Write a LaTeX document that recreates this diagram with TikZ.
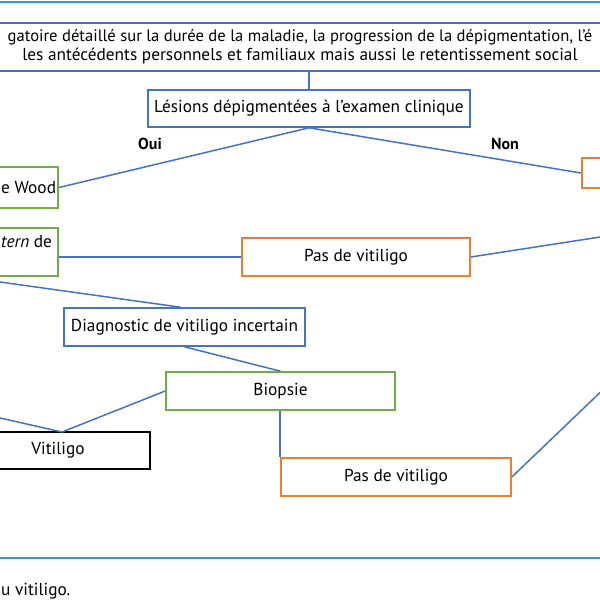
\documentclass[tikz,border=0pt]{standalone}
\usepackage{fontspec}
\setmainfont{PT Sans}
\definecolor{lblue}{HTML}{4472C4}
\definecolor{lgreen}{HTML}{70AD47}
\definecolor{lorange}{HTML}{ED7D31}
\definecolor{rule}{HTML}{1EA0DD}
\tikzset{
  bbox/.style={draw=lblue, line width=1.6pt, inner sep=0pt, font=\fontsize{17.3}{19.5}\selectfont},
  gbox/.style={bbox, draw=lgreen},
  obox/.style={bbox, draw=lorange},
  kbox/.style={bbox, draw=black},
  conn/.style={draw=lblue, line width=1.5pt},
  lbl/.style={font=\fontsize{16}{18}\selectfont\bfseries, inner sep=0pt},
  txt/.style={font=\fontsize{17.3}{19.5}\selectfont, inner sep=0pt},
}
\begin{document}
\begin{tikzpicture}[x=1pt,y=-1pt]
\useasboundingbox (0,0) rectangle (600,600);
\clip (0,0) rectangle (600,600);
\fill[white] (0,0) rectangle (600,600);
% rules
\coordinate (r1a) at (-5,1.5); \coordinate (r1b) at (605,1.5);
\coordinate (r2a) at (-5,558); \coordinate (r2b) at (605,558);
\draw[rule, line width=2pt] (r1a) -- (r1b);
\draw[rule, line width=2pt] (r2a) -- (r2b);
% boxes
\node[bbox, minimum width=620, minimum height=48, align=center] (top) at (300,47)
  {{\fontsize{16.6}{19.5}\selectfont gatoire détaillé sur la durée de la maladie, la progression de la dépigmentation, l'é}\\
   les antécédents personnels et familiaux mais aussi le retentissement social};
\node[bbox, minimum width=322, minimum height=37] (les) at (309,108.5) {Lésions dépigmentées à l'examen clinique};
\node[gbox, minimum width=120, minimum height=41, anchor=east] (wood) at (59,187.5) {};
\node[txt, anchor=west] (woodt) at (1,188) {e Wood};
\node[obox, minimum width=40, minimum height=30, anchor=west] (rbox) at (581,173) {};
\node[gbox, minimum width=120, minimum height=48, anchor=east] (pat) at (59,252) {};
\node[txt, anchor=west] (patt) at (1,242) {\textit{tern} de};
\node[obox, minimum width=228, minimum height=38] (pv1) at (356,257) {Pas de vitiligo};
\node[bbox, minimum width=241, minimum height=38] (diag) at (184.5,327) {Diagnostic de vitiligo incertain};
\node[gbox, minimum width=229, minimum height=38] (biop) at (280.5,391) {\raisebox{3pt}{Biopsie}};
\node[kbox, minimum width=184, minimum height=37] (vit) at (58,450.5) {Vitiligo};
\node[obox, minimum width=230, minimum height=38] (pv2) at (396,477) {Pas de vitiligo};
% labels
\node[lbl] (oui) at (150,144) {Oui};
\node[lbl] (non) at (505,144) {Non};
\node[txt, anchor=west] (cap) at (1,591) {u vitiligo.};
% connectors
\coordinate (vtop) at (62,432);
\coordinate (offL1) at (-10,280.6);
\coordinate (offL2) at (-10,415.7);
\coordinate (offR1) at (610,235.5);
\coordinate (offR2) at (610,383);
\draw[conn] (top.south -| les.north) -- (les.north);
\draw[conn] (les.south) -- (wood.east);
\draw[conn] (les.south) -- (rbox.west);
\draw[conn] (pv1.west -| pat.east) -- (pv1.west);
\draw[conn] (pv1.east) -- (offR1);
\draw[conn] (offL1) -- ([xshift=-4pt]diag.north);
\draw[conn] (diag.south) -- (biop.north);
\draw[conn] (biop.west) -- (vtop);
\draw[conn] (offL2) -- (vtop);
\draw[conn] (biop.south -| pv2.west) -- (pv2.north west);
\draw[conn] (pv2.east) -- (offR2);
\end{tikzpicture}
\end{document}
